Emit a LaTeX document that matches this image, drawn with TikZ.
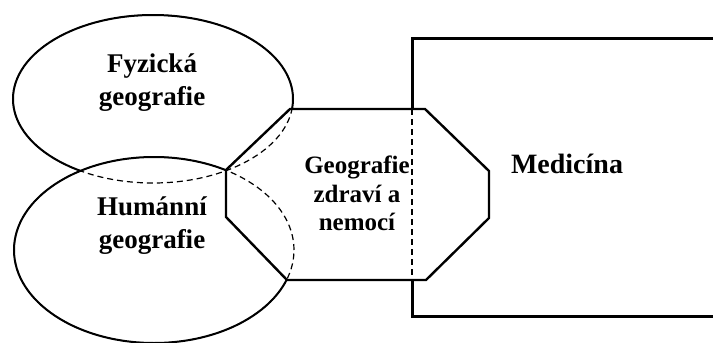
\documentclass[tikz,border=0pt]{standalone}
\usepackage{fontspec}
\setmainfont{Liberation Serif}
\begin{document}
\begin{tikzpicture}[x=1pt,y=-1pt,
  ellsolid/.style={line width=2pt},
  dashline/.style={line width=1.2pt, dash pattern=on 6pt off 4pt},
  hexline/.style={line width=2.4pt, line join=miter},
  rectline/.style={line width=3pt, line join=miter},
  biglbl/.style={font=\fontsize{27}{33}\selectfont\bfseries, anchor=base, inner sep=0pt},
  midlbl/.style={font=\fontsize{25}{29}\selectfont\bfseries, anchor=base, inner sep=0pt},
  medlbl/.style={font=\fontsize{28}{33}\selectfont\bfseries, anchor=base, inner sep=0pt}]
\useasboundingbox (0,0) rectangle (713,343);
\coordinate (TE) at (153,99);
\coordinate (BE) at (154,250);
\coordinate (h1) at (290,109);
\coordinate (h2) at (226,170);
\coordinate (h3) at (226,217);
\coordinate (h4) at (287,280);
\coordinate (h5) at (426,280);
\coordinate (h6) at (489,218);
\coordinate (h7) at (489,171);
\coordinate (h8) at (425,109);
\coordinate (r1) at (713,38);
\coordinate (r2) at (412,38);
\coordinate (r3) at (412,109);
\coordinate (r4) at (412,280);
\coordinate (r5) at (412,316);
\coordinate (r6) at (713,316);
% top ellipse
\draw[dashline] (TE) ellipse [x radius=140pt, y radius=84pt];
\begin{scope}[even odd rule]
  \clip (-20,-20) rectangle (740,370) (BE) ellipse [x radius=140pt, y radius=93pt];
  \clip (-20,-20) rectangle (740,370) (h1)--(h2)--(h3)--(h4)--(h5)--(h6)--(h7)--(h8)--cycle;
  \draw[ellsolid] (TE) ellipse [x radius=140pt, y radius=84pt];
\end{scope}
% bottom ellipse
\draw[dashline] (BE) ellipse [x radius=140pt, y radius=93pt];
\begin{scope}[even odd rule]
  \clip (-20,-20) rectangle (740,370) (h1)--(h2)--(h3)--(h4)--(h5)--(h6)--(h7)--(h8)--cycle;
  \draw[ellsolid] (BE) ellipse [x radius=140pt, y radius=93pt];
\end{scope}
% octagon
\draw[hexline] (h1)--(h2)--(h3)--(h4)--(h5)--(h6)--(h7)--(h8)--cycle;
% rectangle
\draw[rectline] (r1)--(r2)--(r3);
\draw[rectline] (r4)--(r5)--(r6);
\draw[dashline] (r3)--(r4);
% labels
\node[biglbl] (fy1) at (152,72) {Fyzická};
\node[biglbl] (fy2) at (152,105) {geografie};
\node[biglbl] (hu1) at (152,215) {Humánní};
\node[biglbl] (hu2) at (152,248) {geografie};
\node[midlbl] (gz1) at (357,173) {Geografie};
\node[midlbl] (gz2) at (357,202) {zdraví a};
\node[midlbl] (gz3) at (357,230) {nemocí};
\node[medlbl] (med) at (567,173) {Medicína};
\end{tikzpicture}
\end{document}
